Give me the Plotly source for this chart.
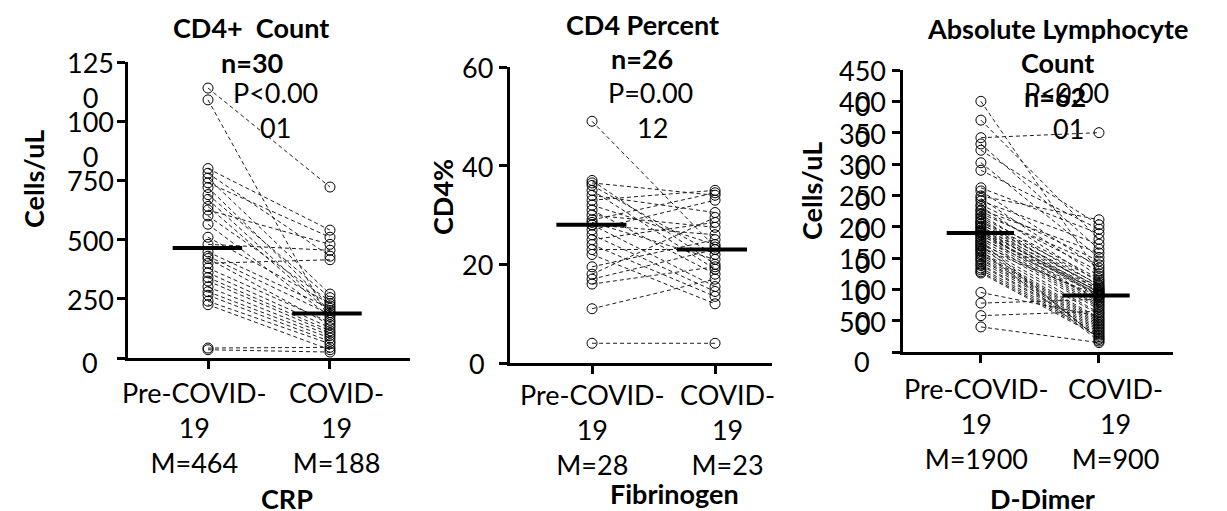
import plotly.graph_objects as go

W, H = 1227, 511
FONT = "Lato, 'Open Sans', sans-serif"
FS = 27

# ---------------- data ----------------
groups = ["Pre-COVID-<br>19", "COVID-<br>19"]

# Panel 1: CD4+ Count (cells/uL), n=30, paired pre -> post
cd4_count_pre = [1140, 1090, 800, 780, 760, 740, 720, 690, 670, 640,
                 625, 600, 565, 510, 480, 448, 430, 420, 400, 380,
                 360, 340, 325, 300, 280, 265, 240, 225, 42, 35]
cd4_count_post = [722, 160, 540, 430, 270, 510, 220, 255, 200, 192,
                  480, 240, 175, 230, 455, 210, 184, 140, 415, 150,
                  128, 115, 105, 95, 84, 70, 60, 35, 45, 25]
cd4_count_median = [464, 188]
cd4_count_yticks = [0, 250, 500, 750, 1000, 1250]
cd4_count_yticklabels = ["0", "250", "500", "750", "100<br>0", "125<br>0"]

# Panel 2: CD4 Percent, n=26
cd4_pct_pre = [49, 37, 36.5, 36, 35, 34, 33, 32, 31, 30,
               29, 28.5, 28, 28, 27, 26, 25, 24, 23, 22,
               19.5, 18, 17, 16, 11, 4]
cd4_pct_post = [23.5, 20, 34, 22, 19, 30.5, 35, 24, 18, 27.5,
                34.5, 21, 15.5, 26, 33, 14.5, 28.5, 13.5, 23, 12,
                25, 29.5, 23, 19.5, 17, 4]
cd4_pct_median = [28, 23]
cd4_pct_yticks = [0, 20, 40, 60]
cd4_pct_yticklabels = ["0", "20", "40", "60"]

# Panel 3: Absolute Lymphocyte Count (cells/uL), n=62
alc_pre = [4000, 3700, 3420, 3320, 3220, 3020, 2900,
           2620, 2570, 2490, 2450, 2410, 2350, 2320, 2270, 2250, 2210,
           2190, 2150, 2130, 2090, 2080, 2050, 2040, 2010, 1990, 1980,
           1950, 1930, 1920, 1910, 1890, 1870, 1860, 1830, 1810, 1790,
           1760, 1750, 1720, 1700, 1690, 1660, 1640, 1620, 1600, 1570,
           1550, 1520, 1490, 1470, 1440, 1400, 1380, 1340, 1310, 1280, 1260,
           950, 780, 580, 400]
alc_post = [1250, 1800, 3500, 1640, 2030, 1510, 1960,
            1890, 1340, 2110, 1210, 1720, 1450, 1110, 1580, 1290, 1390,
            1060, 1170, 985, 1140, 1020, 940, 1080, 905, 1040, 880,
            955, 815, 1000, 790, 925, 760, 970, 735, 915, 710,
            200, 680, 860, 220, 625, 895, 600, 175, 545, 520,
            495, 470, 445, 420, 395, 370, 345, 320, 295, 270, 245,
            570, 840, 650, 150]
alc_median = [1900, 900]
alc_yticks = [0, 500, 1000, 1500, 2000, 2500, 3000, 3500, 4000, 4500]
alc_yticklabels = ["0", "500", "100<br>0", "150<br>0", "200<br>0", "250<br>0",
                   "300<br>0", "350<br>0", "400<br>0", "450<br>0"]

medians_text = [["M=464", "M=188"], ["M=28", "M=23"], ["M=1900", "M=900"]]

# ---------------- layout geometry (pixels) ----------------
def px(x):
    return x / W

def py(y):
    return 1 - y / H

panels = [
    dict(pre=cd4_count_pre, post=cd4_count_post, med=cd4_count_median,
         yt=cd4_count_yticks, ytl=cd4_count_yticklabels,
         xd=(128, 410), yd=(62, 358), xr=(-0.656, 1.656), yr=(0, 1250),
         labx=90, zshift=-4, xlab_top=374, xlab_shift=(-14, 7)),
    dict(pre=cd4_pct_pre, post=cd4_pct_post, med=cd4_pct_median,
         yt=cd4_pct_yticks, ytl=cd4_pct_yticklabels,
         xd=(510, 772), yd=(67, 363), xr=(-0.667, 1.463), yr=(0, 60),
         labx=477, zshift=0, xlab_top=376, xlab_shift=(0, 12)),
    dict(pre=alc_pre, post=alc_post, med=alc_median,
         yt=alc_yticks, ytl=alc_yticklabels,
         xd=(903, 1173), yd=(70, 352), xr=(-0.66, 1.627), yr=(0, 4500),
         labx=862, zshift=-9, xlab_top=370, xlab_shift=(-4, 17)),
]

fig = go.Figure()
annotations = []
layout_axes = {}

for i, p in enumerate(panels):
    k = "" if i == 0 else str(i + 1)
    xa, ya = "x" + k, "y" + k
    # paired lines
    lx, ly = [], []
    for a, b in zip(p["pre"], p["post"]):
        lx += [0, 1, None]
        ly += [a, b, None]
    fig.add_trace(go.Scatter(x=lx, y=ly, mode="lines", xaxis=xa, yaxis=ya,
                             line=dict(color="#1e1e1e", width=1, dash="4px,3px"),
                             showlegend=False, hoverinfo="skip"))
    # circles
    fig.add_trace(go.Scatter(x=[0] * len(p["pre"]) + [1] * len(p["post"]),
                             y=p["pre"] + p["post"], mode="markers",
                             xaxis=xa, yaxis=ya, cliponaxis=False,
                             marker=dict(symbol="circle-open", size=10,
                                         color="black", line=dict(width=1)),
                             showlegend=False))
    # median bars
    m0, m1 = p["med"]
    fig.add_trace(go.Scatter(x=[-0.29, 0.28, None, 1 - 0.31, 1 + 0.26],
                             y=[m0, m0, None, m1, m1], mode="lines",
                             xaxis=xa, yaxis=ya, cliponaxis=False,
                             line=dict(color="black", width=4),
                             showlegend=False))
    layout_axes["xaxis" + k] = dict(
        domain=[px(p["xd"][0]), px(p["xd"][1])], range=list(p["xr"]),
        anchor=ya, showgrid=False, zeroline=False, showline=True,
        linecolor="black", linewidth=3, ticks="outside", ticklen=8,
        tickwidth=3, tickcolor="black", tickvals=[0, 1],
        showticklabels=False, fixedrange=True)
    layout_axes["yaxis" + k] = dict(
        domain=[py(p["yd"][1]), py(p["yd"][0])], range=list(p["yr"]),
        anchor=xa, showgrid=False, zeroline=False, showline=True,
        linecolor="black", linewidth=3, ticks="outside", ticklen=8,
        tickwidth=3, tickcolor="black", tickvals=p["yt"], showticklabels=False,
        fixedrange=True)
    # category labels (wrapped like the original)
    for j in range(2):
        annotations.append(dict(
            x=j, xref=xa, y=py(p["xlab_top"]), yref="paper",
            text=groups[j] + "<br>" + medians_text[i][j],
            xanchor="center", yanchor="top", align="center", showarrow=False,
            xshift=p["xlab_shift"][j],
            font=dict(family=FONT, size=FS, color="black")))
    # y tick labels (wrapped like the original)
    for v, t in zip(p["yt"], p["ytl"]):
        annotations.append(dict(
            x=px(p["labx"]), xref="paper", y=v, yref=ya, text=t,
            xanchor="center", yanchor="top", align="center", showarrow=False,
            yshift=18 + (p["zshift"] if v == 0 else 0),
            font=dict(family=FONT, size=FS, color="black")))

texts = [
    ("<b>CD4+\u00a0 Count</b>", 251, 27, 0),
    ("<b>n=30</b>", 252, 62, 0),
    ("P&lt;0.00", 275, 92, 0),
    ("01", 275, 127, 0),
    ("<b>CD4 Percent</b>", 642, 24, 0),
    ("<b>n=26</b>", 642, 58, 0),
    ("P=0.00", 651, 92, 0),
    ("12", 652, 127, 0),
    ("<b>Absolute Lymphocyte</b>", 1057, 28, 0),
    ("<b>Count</b>", 1057, 62, 0),
    ("P&lt;0.00", 1066, 92, 0),
    ("<b>n=62</b>", 1055, 97, 0),
    ("01", 1068, 129, 0),
    ("<b>CRP</b>", 287, 498, 0),
    ("<b>Fibrinogen</b>", 674, 493, 0),
    ("<b>D-Dimer</b>", 1042, 498, 0),
    ("<b>Cells/uL</b>", 33, 179, -90),
    ("<b>CD4%</b>", 443, 197, -90),
    ("<b>Cells/uL</b>", 811, 191, -90),
]
for t, x, y, ang in texts:
    annotations.append(dict(x=px(x), y=py(y), xref="paper", yref="paper",
                            text=t, showarrow=False, xanchor="center",
                            yanchor="middle", textangle=ang,
                            font=dict(family=FONT, size=FS, color="black")))

fig.update_layout(width=W, height=H, margin=dict(l=0, r=0, t=0, b=0),
                  paper_bgcolor="white", plot_bgcolor="white",
                  showlegend=False, annotations=annotations, **layout_axes)

fig.write_html("out.html")
